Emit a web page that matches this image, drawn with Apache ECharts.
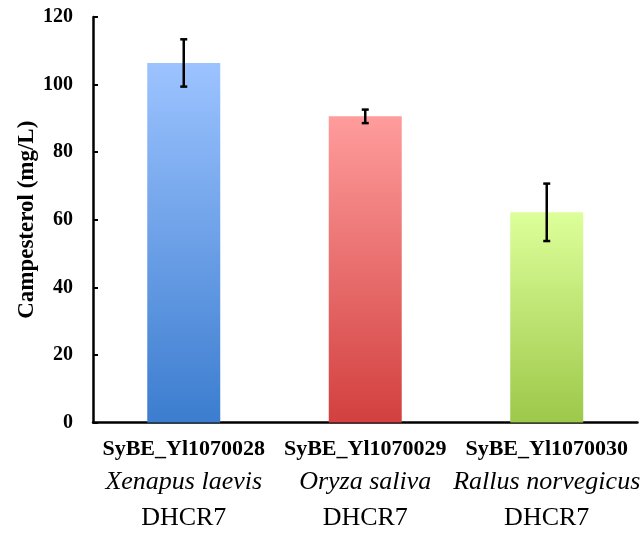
<!DOCTYPE html>
<html>
<head>
<meta charset="utf-8">
<script src="https://cdn.jsdelivr.net/npm/echarts@6/dist/echarts.min.js"></script>
<style>
html,body{margin:0;padding:0;background:#fff;overflow:hidden;}
#chart{width:642px;height:536px;}
</style>
</head>
<body>
<div id="chart"></div>
<script>
var strains = ['SyBE_Yl1070028', 'SyBE_Yl1070029', 'SyBE_Yl1070030'];
var species = ['Xenapus laevis', 'Oryza saliva', 'Rallus norvegicus'];
var genes = ['DHCR7', 'DHCR7', 'DHCR7'];
var values = [106.4, 90.6, 62.2];
var errors = [7.0, 2.0, 8.5];
var topColors = ['#9CC3FF', '#FF9C9C', '#DDFF9A'];
var bottomColors = ['#3C7DCF', '#D2403F', '#9DC84A'];
var yTicks = [0, 20, 40, 60, 80, 100, 120];

var categories = strains.map(function (s, i) { return i; });

var chart = echarts.init(document.getElementById('chart'));

var barData = values.map(function (v, i) {
  return {
    value: v,
    itemStyle: {
      color: new echarts.graphic.LinearGradient(0, 0, 0, 1, [
        { offset: 0, color: topColors[i] },
        { offset: 1, color: bottomColors[i] }
      ])
    }
  };
});

var errData = values.map(function (v, i) {
  return [i, v - errors[i], v + errors[i]];
});

var serif = '"Liberation Serif", "Times New Roman", serif';

chart.setOption({
  animation: false,
  backgroundColor: '#ffffff',
  grid: { left: 93, top: 17, width: 552, height: 405.5 },
  xAxis: {
    type: 'category',
    data: categories,
    axisLine: { lineStyle: { color: '#000', width: 2.5 } },
    axisTick: { inside: true, length: 5, lineStyle: { color: '#000', width: 2 } },
    axisLabel: {
      margin: 12,
      interval: 0,
      formatter: function (val, idx) {
        return '{a|' + strains[idx] + '}\n{b|' + species[idx] + '}\n{c|' + genes[idx] + '}';
      },
      rich: {
        a: { fontFamily: serif, fontWeight: 'bold', fontSize: 22, color: '#000', lineHeight: 30 },
        b: { fontFamily: serif, fontStyle: 'italic', fontSize: 26, color: '#000', lineHeight: 36 },
        c: { fontFamily: serif, fontSize: 26, color: '#000', lineHeight: 36 }
      }
    }
  },
  yAxis: {
    type: 'value',
    min: yTicks[0],
    max: yTicks[yTicks.length - 1],
    interval: 20,
    name: 'Campesterol (mg/L)',
    nameLocation: 'middle',
    nameRotate: 90,
    nameGap: 54,
    nameMoveOverlap: false,
    nameTextStyle: { fontFamily: serif, fontWeight: 'bold', fontSize: 23, color: '#000' },
    axisLine: { show: true, lineStyle: { color: '#000', width: 2.5 } },
    axisTick: { show: true, inside: true, length: 5, lineStyle: { color: '#000', width: 2 } },
    splitLine: { show: false },
    axisLabel: { fontFamily: serif, fontWeight: 'bold', fontSize: 20, color: '#000', margin: 20 }
  },
  series: [
    {
      type: 'bar',
      data: barData,
      barWidth: 73
    },
    {
      type: 'custom',
      data: errData,
      z: 10,
      renderItem: function (params, api) {
        var x = api.value(0);
        var lo = api.coord([x, api.value(1)]);
        var hi = api.coord([x, api.value(2)]);
        var hw = 3.5;
        var style = { stroke: '#000', lineWidth: 2.5 };
        return {
          type: 'group',
          children: [
            { type: 'line', shape: { x1: hi[0], y1: hi[1], x2: lo[0], y2: lo[1] }, style: style },
            { type: 'line', shape: { x1: hi[0] - hw, y1: hi[1], x2: hi[0] + hw, y2: hi[1] }, style: style },
            { type: 'line', shape: { x1: lo[0] - hw, y1: lo[1], x2: lo[0] + hw, y2: lo[1] }, style: style }
          ]
        };
      }
    }
  ]
});
</script>
</body>
</html>
